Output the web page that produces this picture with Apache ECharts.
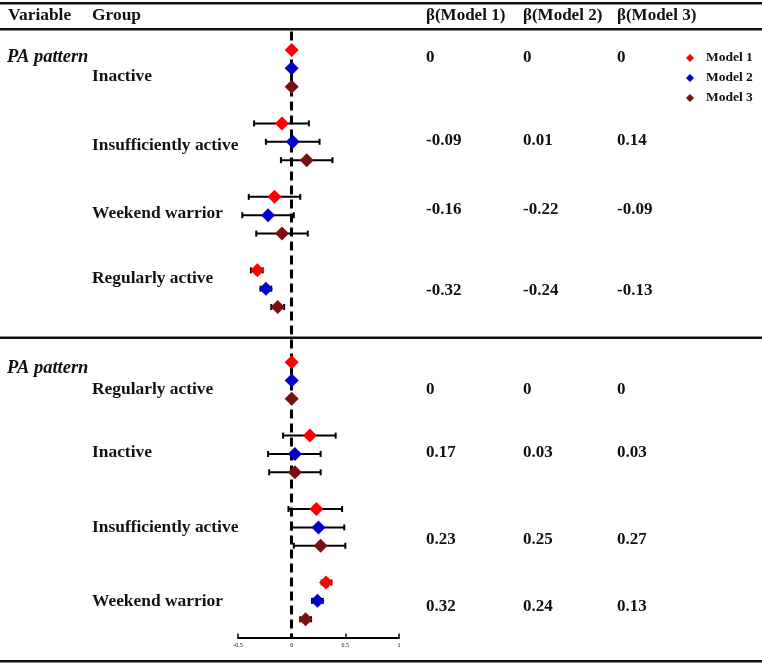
<!DOCTYPE html>
<html>
<head>
<meta charset="utf-8">
<script src="https://cdn.jsdelivr.net/npm/echarts@6/dist/echarts.min.js"></script>
<style>
html, body { margin: 0; padding: 0; background: #fff; }
#chart { width: 762px; height: 665px; }
</style>
</head>
<body>
<div id="chart"></div>
<script>
/**
 * =================================
 *      数据
 * =================================
 */
var modelNames = ['Model 1', 'Model 2', 'Model 3'];
var modelColors = ['#ff0000', '#0000cc', '#7a1010'];

// 上半部分：参照组 Inactive
var groupsTop = ['Inactive', 'Insufficiently active', 'Weekend warrior', 'Regularly active'];
var betaTop1 = [0, -0.09, -0.16, -0.32];
var lowTop1  = [0, -0.35, -0.40, -0.38];
var highTop1 = [0, 0.16, 0.08, -0.27];
var betaTop2 = [0, 0.01, -0.22, -0.24];
var lowTop2  = [0, -0.24, -0.46, -0.29];
var highTop2 = [0, 0.26, 0.02, -0.19];
var betaTop3 = [0, 0.14, -0.09, -0.13];
var lowTop3  = [0, -0.10, -0.33, -0.19];
var highTop3 = [0, 0.38, 0.15, -0.07];
var labelTop1 = ['0', '-0.09', '-0.16', '-0.32'];
var labelTop2 = ['0', '0.01', '-0.22', '-0.24'];
var labelTop3 = ['0', '0.14', '-0.09', '-0.13'];

// 下半部分：参照组 Regularly active
var groupsBottom = ['Regularly active', 'Inactive', 'Insufficiently active', 'Weekend warrior'];
var betaBot1 = [0, 0.17, 0.23, 0.32];
var lowBot1  = [0, -0.08, -0.03, 0.28];
var highBot1 = [0, 0.41, 0.47, 0.37];
var betaBot2 = [0, 0.03, 0.25, 0.24];
var lowBot2  = [0, -0.22, 0.00, 0.19];
var highBot2 = [0, 0.27, 0.49, 0.29];
var betaBot3 = [0, 0.03, 0.27, 0.13];
var lowBot3  = [0, -0.21, 0.02, 0.08];
var highBot3 = [0, 0.27, 0.50, 0.18];
var labelBot1 = ['0', '0.17', '0.23', '0.32'];
var labelBot2 = ['0', '0.03', '0.25', '0.24'];
var labelBot3 = ['0', '0.03', '0.27', '0.13'];

var xTicks = [-0.5, 0, 0.5, 1];

/**
 * =================================
 *      版式
 * =================================
 */
var FONT = "'Liberation Serif', 'Times New Roman', serif";
var BOTTOM_START = 17;          // 下半部分的起始行
var groupLabelYTop = [77, 146, 214, 279];
var groupLabelYBot = [390, 453, 528, 602];
var valueYTop = [58, 141, 210, 291];
var valueYBot = [390, 453, 540, 607];
var colX = [426, 523, 617];

function slot(panel, g, m) {
	return (panel === 0 ? 0 : BOTTOM_START) + g * 4 + m;
}

var betas = [[betaTop1, betaTop2, betaTop3], [betaBot1, betaBot2, betaBot3]];
var lows  = [[lowTop1, lowTop2, lowTop3], [lowBot1, lowBot2, lowBot3]];
var highs = [[highTop1, highTop2, highTop3], [highBot1, highBot2, highBot3]];
var labels = [[labelTop1, labelTop2, labelTop3], [labelBot1, labelBot2, labelBot3]];

var series = [];

// 虚线 x = 0
series.push({
	name: 'ref',
	type: 'scatter',
	data: [],
	z: 1,
	silent: true,
	markLine: {
		silent: true,
		symbol: 'none',
		label: { show: false },
		lineStyle: { color: '#000', type: [9, 5], width: 3, opacity: 1 },
		data: [{ xAxis: 0 }]
	}
});

for (var m = 0; m < 3; m++) {
	var points = [];
	var bars = [];
	for (var p = 0; p < 2; p++) {
		for (var g = 0; g < 4; g++) {
			var s = slot(p, g, m);
			points.push([betas[p][m][g], s]);
			if (lows[p][m][g] !== highs[p][m][g])
				bars.push([lows[p][m][g], highs[p][m][g], s]);
		}
	}
	series.push({
		name: 'ci' + m,
		type: 'custom',
		z: 3,
		silent: true,
		renderItem: function (params, api) {
			var a = api.coord([api.value(0), api.value(2)]);
			var b = api.coord([api.value(1), api.value(2)]);
			var st = { stroke: '#000', lineWidth: 2 };
			return {
				type: 'group',
				children: [
					{ type: 'line', shape: { x1: a[0], y1: a[1], x2: b[0], y2: b[1] }, style: st },
					{ type: 'line', shape: { x1: a[0], y1: a[1] - 3, x2: a[0], y2: a[1] + 3 }, style: st },
					{ type: 'line', shape: { x1: b[0], y1: b[1] - 3, x2: b[0], y2: b[1] + 3 }, style: st }
				]
			};
		},
		encode: { x: [0, 1], y: 2 },
		data: bars
	});
	series.push({
		name: modelNames[m],
		type: 'scatter',
		symbol: 'diamond',
		symbolSize: 14,
		z: 5,
		itemStyle: { color: modelColors[m], opacity: 1 },
		data: points
	});
}

// 表格文字与横线
var graphics = [];
function txt(x, y, text, opt) {
	opt = opt || {};
	graphics.push({
		type: 'text', x: x, y: y, silent: true,
		style: {
			text: text, fill: '#111',
			font: (opt.italic ? 'italic ' : '') + 'bold ' + (opt.size || 17.4) + 'px ' + FONT,
			verticalAlign: 'middle', align: 'left'
		}
	});
}
function rule(y) {
	graphics.push({
		type: 'rect', silent: true,
		shape: { x: 0, y: y - 1, width: 762, height: 2.4 },
		style: { fill: '#111' }
	});
}
rule(3); rule(29); rule(337.5); rule(661);

txt(8, 16, 'Variable');
txt(92, 16, 'Group');
for (var c = 0; c < 3; c++) txt(colX[c], 16, 'β(' + modelNames[c] + ')', { size: 17 });

txt(7, 57, 'PA pattern', { italic: true, size: 18.5 });
txt(7, 368, 'PA pattern', { italic: true, size: 18.5 });
for (var g2 = 0; g2 < 4; g2++) {
	txt(92, groupLabelYTop[g2], groupsTop[g2]);
	txt(92, groupLabelYBot[g2], groupsBottom[g2]);
	for (var c2 = 0; c2 < 3; c2++) {
		txt(colX[c2], valueYTop[g2], labels[0][c2][g2], { size: 17 });
		txt(colX[c2], valueYBot[g2], labels[1][c2][g2], { size: 17 });
	}
}

var option = {
	animation: false,
	backgroundColor: '#fff',
	grid: { left: 238, width: 161, top: 31.6, height: 606 },
	legend: {
		data: modelNames.map(function (n) { return { name: n, icon: 'diamond' }; }),
		orient: 'vertical',
		left: 681,
		top: 46,
		itemWidth: 8,
		itemHeight: 8,
		itemGap: 6,
		selectedMode: false,
		textStyle: {
			fontFamily: FONT, fontWeight: 'bold', fontSize: 13.5, color: '#111',
			lineHeight: 13, padding: [0, 0, 0, 7]
		}
	},
	xAxis: {
		type: 'value',
		min: -0.5,
		max: 1,
		interval: 0.5,
		axisLine: { show: true, onZero: false, lineStyle: { color: '#000', width: 2 } },
		axisTick: { show: true, inside: true, length: 4, lineStyle: { color: '#000', width: 1.5 } },
		axisLabel: {
			fontSize: 6, color: '#000', margin: 5, fontFamily: FONT,
			customValues: xTicks
		},
		splitLine: { show: false }
	},
	yAxis: {
		type: 'value',
		min: -1,
		max: 32,
		inverse: true,
		show: false
	},
	graphic: graphics,
	series: series
};

var myChart = echarts.init(document.getElementById('chart'));
myChart.setOption(option);
</script>
</body>
</html>
